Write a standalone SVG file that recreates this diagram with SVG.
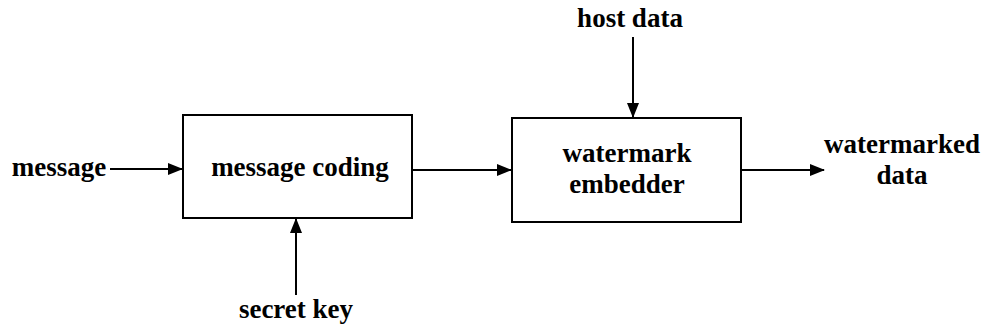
<svg xmlns="http://www.w3.org/2000/svg" width="985" height="334" viewBox="0 0 985 334">
  <style>
    .box { fill: #fff; stroke: #000; stroke-width: 2; }
    .lbl { font-family: 'Liberation Serif', 'DejaVu Serif', serif; font-weight: 700; font-size: 27px; fill: #000; text-anchor: middle; }
    .edge { stroke: #000; stroke-width: 2; fill: none; marker-end: url(#arrow); }
  </style>
  <defs>
    <marker id="arrow" markerWidth="15" markerHeight="12" refX="14" refY="6" orient="auto" markerUnits="userSpaceOnUse">
      <path d="M0,0 L15,6 L0,12 Z" fill="#000"/>
    </marker>
  </defs>
  <rect width="985" height="334" fill="#fff"/>

  <g id="connectors">
    <line class="edge" x1="110" y1="169" x2="182" y2="169"/>
    <line class="edge" x1="412" y1="170" x2="511" y2="170"/>
    <line class="edge" x1="633" y1="37" x2="633" y2="117"/>
    <line class="edge" x1="296" y1="295" x2="296" y2="219"/>
    <line class="edge" x1="741" y1="170" x2="824" y2="170"/>
  </g>

  <g id="message">
    <text class="lbl" x="59" y="176">message</text>
  </g>
  <g id="message-coding">
    <rect class="box" x="183" y="115" width="229" height="103"/>
    <text class="lbl" x="300" y="176">message coding</text>
  </g>
  <g id="secret-key">
    <text class="lbl" x="296" y="318">secret key</text>
  </g>
  <g id="host-data">
    <text class="lbl" x="630" y="27">host data</text>
  </g>
  <g id="watermark-embedder">
    <rect class="box" x="512" y="118" width="229" height="104"/>
    <text class="lbl" x="627" y="162">watermark</text>
    <text class="lbl" x="627" y="193">embedder</text>
  </g>
  <g id="watermarked-data">
    <text class="lbl" x="902" y="153">watermarked</text>
    <text class="lbl" x="902" y="184">data</text>
  </g>
</svg>
